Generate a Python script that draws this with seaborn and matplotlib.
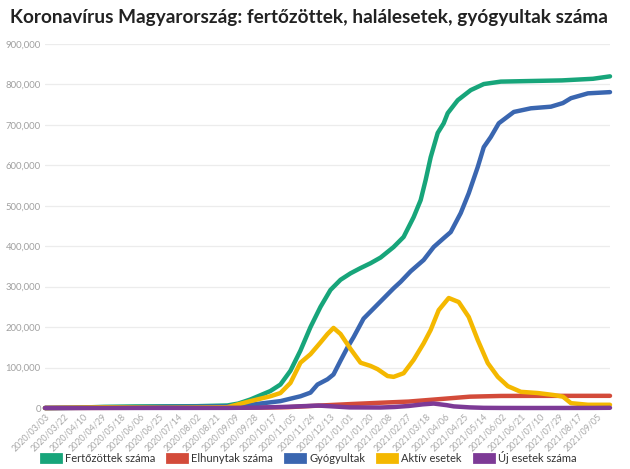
import pandas as pd
import matplotlib
matplotlib.use("Agg")
import matplotlib.pyplot as plt
from matplotlib.patches import Patch
import seaborn as sns

# Adatok
fert_datum = ["2020-03-03", "2020-04-01", "2020-05-01", "2020-06-01", "2020-07-01", "2020-08-01",
              "2020-09-01", "2020-09-12", "2020-09-24", "2020-10-14", "2020-10-24", "2020-11-03",
              "2020-11-13", "2020-11-23", "2020-12-03", "2020-12-13", "2020-12-23", "2021-01-02",
              "2021-01-12", "2021-01-22", "2021-02-01", "2021-02-14", "2021-02-24", "2021-03-06",
              "2021-03-13", "2021-03-18", "2021-03-23", "2021-03-30", "2021-04-05", "2021-04-09",
              "2021-04-19", "2021-05-02", "2021-05-15", "2021-06-01", "2021-07-01", "2021-08-01",
              "2021-09-01", "2021-09-18"]
fert_ertek = [2, 525, 2900, 3900, 4160, 4480,
              6250, 11000, 21000, 42000, 58000, 92000,
              142000, 200000, 250000, 292000, 317000, 333000,
              346000, 358000, 372000, 398000, 423000, 472000,
              514000, 564000, 620000, 680000, 704000, 729000,
              761000, 786000, 801000, 807000, 808500, 810000,
              814000, 820000]

elh_datum = ["2020-03-03", "2020-06-01", "2020-09-01", "2020-10-01", "2020-11-01", "2020-12-01",
             "2021-01-01", "2021-02-01", "2021-03-01", "2021-04-01", "2021-05-01", "2021-06-01",
             "2021-07-01", "2021-09-18"]
elh_ertek = [0, 530, 630, 920, 2100, 5900,
             9600, 13000, 15900, 22000, 28000, 29800,
             30000, 30100]

gyogy_datum = ["2020-03-03", "2020-05-01", "2020-07-01", "2020-09-01", "2020-09-24", "2020-10-24",
               "2020-11-13", "2020-11-23", "2020-11-30", "2020-12-10", "2020-12-16", "2020-12-23",
               "2020-12-30", "2021-01-05", "2021-01-15", "2021-01-25", "2021-02-04", "2021-02-14",
               "2021-02-21", "2021-03-03", "2021-03-16", "2021-03-26", "2021-04-05", "2021-04-12",
               "2021-04-22", "2021-04-30", "2021-05-09", "2021-05-15", "2021-05-22", "2021-05-30",
               "2021-06-14", "2021-07-01", "2021-07-21", "2021-08-02", "2021-08-10", "2021-08-27",
               "2021-09-18"]
gyogy_ertek = [0, 700, 2900, 3800, 8000, 17000,
               29000, 38000, 58000, 71000, 83000, 117000,
               150000, 175000, 221000, 246000, 271000, 296000,
               312000, 338000, 366000, 398000, 420000, 435000,
               482000, 531000, 596000, 645000, 670000, 704000,
               732000, 741000, 745000, 754000, 766000, 778000,
               781000]

aktiv_datum = ["2020-03-03", "2020-05-01", "2020-07-01", "2020-09-01", "2020-09-24", "2020-10-14",
               "2020-10-24", "2020-11-03", "2020-11-13", "2020-11-23", "2020-12-03", "2020-12-10",
               "2020-12-16", "2020-12-23", "2021-01-02", "2021-01-12", "2021-01-22", "2021-01-29",
               "2021-02-08", "2021-02-14", "2021-02-24", "2021-03-06", "2021-03-16", "2021-03-23",
               "2021-03-31", "2021-04-10", "2021-04-20", "2021-04-30", "2021-05-09", "2021-05-19",
               "2021-05-29", "2021-06-08", "2021-06-21", "2021-07-08", "2021-07-24", "2021-08-02",
               "2021-08-10", "2021-08-27", "2021-09-18"]
aktiv_ertek = [0, 1800, 700, 2000, 17000, 29000,
               37000, 62000, 112000, 133000, 162000, 183000,
               198000, 183000, 146000, 112000, 104000, 96000,
               79000, 77000, 86000, 119000, 160000, 193000,
               242000, 272000, 262000, 225000, 168000, 111000,
               77000, 54000, 40000, 37000, 32000, 28000,
               12000, 8000, 8000]

uj_datum = ["2020-03-03", "2020-09-01", "2020-10-01", "2020-11-01", "2020-11-15", "2020-12-01",
            "2020-12-15", "2021-01-01", "2021-02-01", "2021-02-15", "2021-03-01", "2021-03-15",
            "2021-03-26", "2021-04-08", "2021-04-15", "2021-05-01", "2021-05-15", "2021-06-01",
            "2021-07-01", "2021-08-01", "2021-09-01", "2021-09-18"]
uj_ertek = [0, 300, 900, 3000, 4500, 6000,
            4000, 1500, 1200, 2500, 5000, 9000,
            11000, 7000, 4000, 1500, 400, 150,
            30, 80, 200, 500]

tick_cimkek = ["2020/03/03", "2020/03/22", "2020/04/10", "2020/04/29", "2020/05/18", "2020/06/06",
               "2020/06/25", "2020/07/14", "2020/08/02", "2020/08/21", "2020/09/09", "2020/09/28",
               "2020/10/17", "2020/11/05", "2020/11/24", "2020/12/13", "2021/01/01", "2021/01/20",
               "2021/02/08", "2021/02/27", "2021/03/18", "2021/04/06", "2021/04/25", "2021/05/14",
               "2021/06/02", "2021/06/21", "2021/07/10", "2021/07/29", "2021/08/17", "2021/09/05"]

sorozatok = [
    ("Fertőzöttek száma", fert_datum, fert_ertek, "#17a57a"),
    ("Elhunytak száma", elh_datum, elh_ertek, "#d34b3a"),
    ("Gyógyultak", gyogy_datum, gyogy_ertek, "#3a66b0"),
    ("Aktív esetek", aktiv_datum, aktiv_ertek, "#f4b800"),
    ("Új esetek száma", uj_datum, uj_ertek, "#7d3a96"),
]

sns.set_style("white")
plt.rcParams['font.family'] = ['Lato', 'DejaVu Sans']

fig = plt.figure(figsize=(6.3, 4.69), dpi=100)
ax = fig.add_axes([45 / 630, 61 / 469, 565 / 630, 364 / 469])

for nev, datum, ertek, szin in sorozatok:
    df = pd.DataFrame({"datum": pd.to_datetime(datum), "ertek": ertek})
    sns.lineplot(data=df, x="datum", y="ertek", color=szin, linewidth=3.2,
                 ax=ax, clip_on=False, solid_capstyle="round", solid_joinstyle="round")

ax.set_xlim(pd.Timestamp("2020-03-03"), pd.Timestamp("2021-09-18"))
ax.set_ylim(0, 900000)
ax.set_yticks(range(0, 900001, 100000))
ax.set_yticklabels([f"{v:,}" for v in range(0, 900001, 100000)])

tick_helyek = pd.to_datetime(tick_cimkek, format="%Y/%m/%d")
ax.set_xticks(tick_helyek)
ax.set_xticklabels(tick_cimkek, rotation=45, ha="right", rotation_mode="anchor")

ax.tick_params(axis="y", colors="#a0a0a0", labelsize=6.8, length=0, pad=3)
ax.tick_params(axis="x", colors="#a8a8a8", labelsize=6.4, length=0, pad=3)
ax.grid(axis="y", color="#ececec", linewidth=0.9)
ax.grid(axis="x", visible=False)
ax.set_axisbelow(True)
for s in ax.spines.values():
    s.set_visible(False)
ax.set_xlabel("")
ax.set_ylabel("")

fig.text(0.016, 0.963, "Koronavírus Magyarország: fertőzöttek, halálesetek, gyógyultak száma",
         fontsize=13.7, fontweight="bold", color="#222222", va="center", ha="left")

kezelok = [Patch(facecolor=sz, edgecolor=sz, linewidth=2, joinstyle="round") for _, _, _, sz in sorozatok]
fig.legend(kezelok, [s[0] for s in sorozatok], loc="center", bbox_to_anchor=(0.49, 0.025),
           ncol=5, frameon=False, fontsize=8, labelcolor="#333333",
           handlelength=1.8, handleheight=0.75, handletextpad=0.35, columnspacing=1.1)

fig.savefig("out.png", dpi=100)
